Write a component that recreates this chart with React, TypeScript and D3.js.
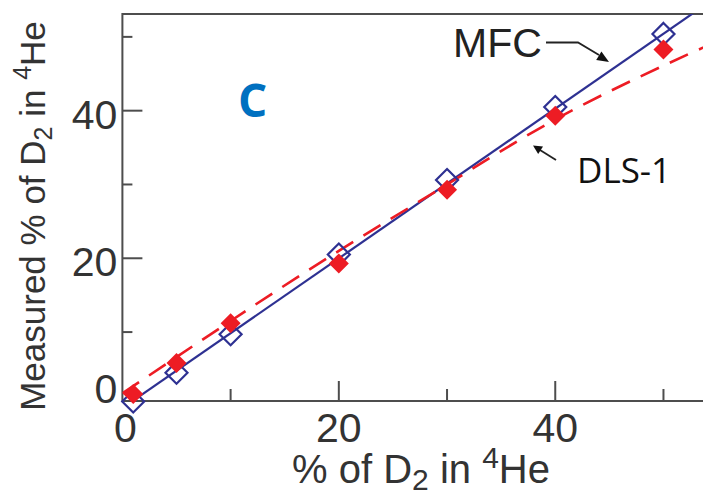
import React from "react";
import * as d3 from "d3";

// ---- data ----
const xValues = [1, 5, 10, 20, 30, 40, 50];
const mfcMeasured = [0.6, 4.5, 9.7, 20.5, 30.6, 40.5, 50.4];
const dlsMeasured = [1.6, 5.8, 11.2, 19.3, 29.3, 39.3, 48.3];

// fitted curves
const mfcFitX = [0, 55];
const mfcFitY = [-0.3, 55.5];
const dlsFitX = [0, 10, 20, 30, 40, 50, 55];
const dlsFitY = [1.7, 11.5, 21.0, 30.0, 38.8, 46.1, 49.4];

const xMajorTicks = [0, 20, 40];
const xMinorTicks = [10, 30, 50];
const yMajorTicks = [0, 20, 40];
const yMinorTicks = [10, 30, 50];

const W = 703;
const H = 495;
const LEFT = 122.4;
const RIGHT = 710;
const TOP = 14;
const BOTTOM = 401;

const x = d3.scaleLinear().domain([0, 54.3]).range([LEFT, RIGHT]);
const y = d3.scaleLinear().domain([0.66, 53.1]).range([BOTTOM, TOP]);

const AXIS = "#4d4d4d";
const BLUE = "#2e3192";
const RED = "#ed1c24";
const SANS = "'Liberation Sans', Arial, sans-serif";

const diamond = (r: number) => `M0,${-r}L${r},0L0,${r}L${-r},0Z`;

export default function App() {
  const mfcLine = d3
    .line<number>()
    .x((_, i) => x(mfcFitX[i]))
    .y((d) => y(d))(mfcFitY) as string;
  const dlsLine = d3
    .line<number>()
    .x((_, i) => x(dlsFitX[i]))
    .y((d) => y(d))
    .curve(d3.curveNatural)(dlsFitY) as string;

  return (
    <svg
      width={W}
      height={H}
      style={{ position: "absolute", left: 0, top: 0, background: "#fff" }}
    >
      <defs>
        <clipPath id="plot">
          <rect x={LEFT} y={TOP} width={RIGHT - LEFT} height={BOTTOM - TOP} />
        </clipPath>
      </defs>
      <rect width={W} height={H} fill="#fff" />

      {/* frame */}
      <path
        d={`M${LEFT},${TOP}L${RIGHT},${TOP}L${RIGHT},${BOTTOM}L${LEFT},${BOTTOM}Z`}
        fill="none"
        stroke={AXIS}
        strokeWidth={2}
      />

      {/* y ticks */}
      {yMajorTicks
        .filter((v) => y(v) < BOTTOM - 2)
        .map((v) => (
          <line key={"ym" + v} x1={LEFT} x2={LEFT + 20} y1={y(v)} y2={y(v)} stroke={AXIS} strokeWidth={2} />
        ))}
      {yMinorTicks.map((v) => (
        <line key={"yn" + v} x1={LEFT} x2={LEFT + 10} y1={y(v)} y2={y(v)} stroke={AXIS} strokeWidth={2} />
      ))}
      {yMajorTicks.map((v) => (
        <text
          key={"yl" + v}
          x={LEFT - 5}
          y={Math.min(y(v) + 18, BOTTOM + 2)}
          textAnchor="end"
          fontFamily={SANS}
          fontSize={41}
          fill="#333"
        >
          {v}
        </text>
      ))}

      {/* x ticks */}
      {xMajorTicks
        .filter((v) => x(v) > LEFT + 2)
        .map((v) => (
          <line key={"xm" + v} x1={x(v)} x2={x(v)} y1={BOTTOM} y2={BOTTOM - 20} stroke={AXIS} strokeWidth={2} />
        ))}
      {xMinorTicks.map((v) => (
        <line key={"xn" + v} x1={x(v)} x2={x(v)} y1={BOTTOM} y2={BOTTOM - 12} stroke={AXIS} strokeWidth={2} />
      ))}
      {xMajorTicks.map((v) => (
        <text
          key={"xl" + v}
          x={Math.max(x(v), LEFT + 3)}
          y={442}
          textAnchor="middle"
          fontFamily={SANS}
          fontSize={41}
          fill="#333"
        >
          {v}
        </text>
      ))}

      {/* axis titles */}
      <text x={421} y={483} textAnchor="middle" fontFamily={SANS} fontSize={40} fill="#333">
        % of D
        <tspan fontSize={30} dy={7}>2</tspan>
        <tspan dy={-7}> in </tspan>
        <tspan fontSize={30} dy={-15}>4</tspan>
        <tspan dy={15}>He</tspan>
      </text>
      <text
        transform="translate(45,216) rotate(-90)"
        textAnchor="middle"
        fontFamily={SANS}
        fontSize={35}
        fill="#333"
      >
        Measured % of D
        <tspan fontSize={25} dy={7}>2</tspan>
        <tspan dy={-7}> in </tspan>
        <tspan fontSize={25} dy={-14}>4</tspan>
        <tspan dy={14}>He</tspan>
      </text>

      {/* fit lines */}
      <g clipPath="url(#plot)">
        <path d={mfcLine} fill="none" stroke={BLUE} strokeWidth={2.2} />
        <path d={dlsLine} fill="none" stroke={RED} strokeWidth={2.6} strokeDasharray="20 12" />
      </g>

      {/* markers */}
      {xValues.map((v, i) => (
        <path
          key={"b" + i}
          d={diamond(11)}
          transform={`translate(${x(v)},${y(mfcMeasured[i])})`}
          fill="none"
          stroke={BLUE}
          strokeWidth={2.2}
        />
      ))}
      {xValues.map((v, i) => (
        <path
          key={"r" + i}
          d={diamond(10)}
          transform={`translate(${x(v)},${y(dlsMeasured[i])})`}
          fill={RED}
        />
      ))}

      {/* panel letter */}
      <text x={238} y={117} fontFamily="'Open Sans', sans-serif" fontWeight={700} fontSize={46} fill="#0070c0">
        C
      </text>

      {/* annotations */}
      <text x={453} y={57} fontFamily={SANS} fontSize={41} fill="#222">
        MFC
      </text>
      <path d="M546,42.5L578,42.5L599,55" fill="none" stroke="#222" strokeWidth={1.8} />
      <polygon points="609,62 596.2,60 601.4,51.4" fill="#111" />

      <text x={577} y={183} fontFamily="'Open Sans', sans-serif" fontSize={35} fill="#111">
        DLS-1
      </text>
      <path d="M556,160L540,150" fill="none" stroke="#222" strokeWidth={1.8} />
      <polygon points="533,145.5 543,146.5 538.2,154.1" fill="#111" />
    </svg>
  );
}
